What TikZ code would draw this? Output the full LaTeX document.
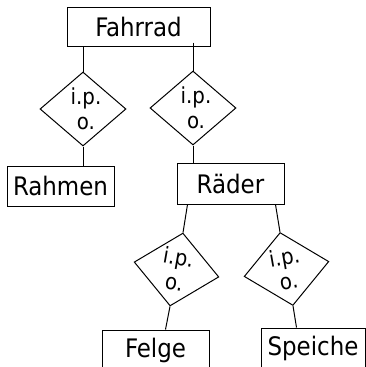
\documentclass[tikz,border=0pt]{standalone}
\usepackage{fontspec}
\setmainfont{DejaVu Sans Condensed}
\usetikzlibrary{shapes.geometric}
\begin{document}
\begin{tikzpicture}[x=1pt,y=-1pt,line width=1pt,
  entity/.style={draw,rectangle,inner sep=0,minimum height=40pt,
    font=\fontsize{25.5}{30}\selectfont},
  relation/.style={draw,diamond,inner sep=0,minimum width=86pt,minimum height=74pt},
  reltext/.style={align=center,inner sep=0,font=\fontsize{22}{25}\selectfont}]
  \clip (0,0) rectangle (366,367);

  % entities
  \node[entity,minimum width=143pt,minimum height=39pt] (fahrrad) at (138.5,26.5) {Fahrrad};
  \node[entity,minimum width=107pt] (rahmen) at (60.5,186) {Rahmen};
  \node[entity,minimum width=107pt,minimum height=41pt] (raeder) at (230.5,183.5) {Räder};
  \node[entity,minimum width=107pt] (felge) at (155.5,350) {Felge};
  \node[entity,minimum width=104pt] (speiche) at (313,348) {Speiche};

  % relationships
  \node[relation] (d1) at (83,109) {};
  \node[reltext,xshift=3pt] (t1) at (d1) {i.p.\\o.};
  \node[relation] (d2) at (193,108) {};
  \node[reltext,xshift=3pt] (t2) at (d2) {i.p.\\o.};
  \node[relation,rotate=-10] (d3) at (176.5,269.5) {};
  \node[reltext,rotate=-10] (t3) at (d3) {i.p.\\o.};
  \node[relation,rotate=10] (d4) at (286.5,269) {};
  \node[reltext,rotate=10] (t4) at (d4) {i.p.\\o.};

  % connector end points on the boxes
  \coordinate (f1) at (fahrrad.south -| d1.north);
  \coordinate (f2) at ([yshift=4pt]fahrrad.south -| d2.north);
  \coordinate (r1) at ([xshift=11pt]raeder.south west);
  \coordinate (r2) at ([xshift=-9pt]raeder.south east);
  \coordinate (g1) at ([xshift=64pt]felge.north west);
  \coordinate (s1) at ([xshift=36pt]speiche.north west);

  % connectors
  \draw (f1) -- (d1.north);
  \draw (d1.south) -- (rahmen.north -| d1.south);
  \draw (f2) -- (d2.north);
  \draw (d2.south) -- (raeder.north -| d2.south);
  \draw (r1) -- (d3.north);
  \draw (r2) -- (d4.north);
  \draw (d3.south) -- (g1);
  \draw (d4.south) -- (s1);
\end{tikzpicture}
\end{document}
